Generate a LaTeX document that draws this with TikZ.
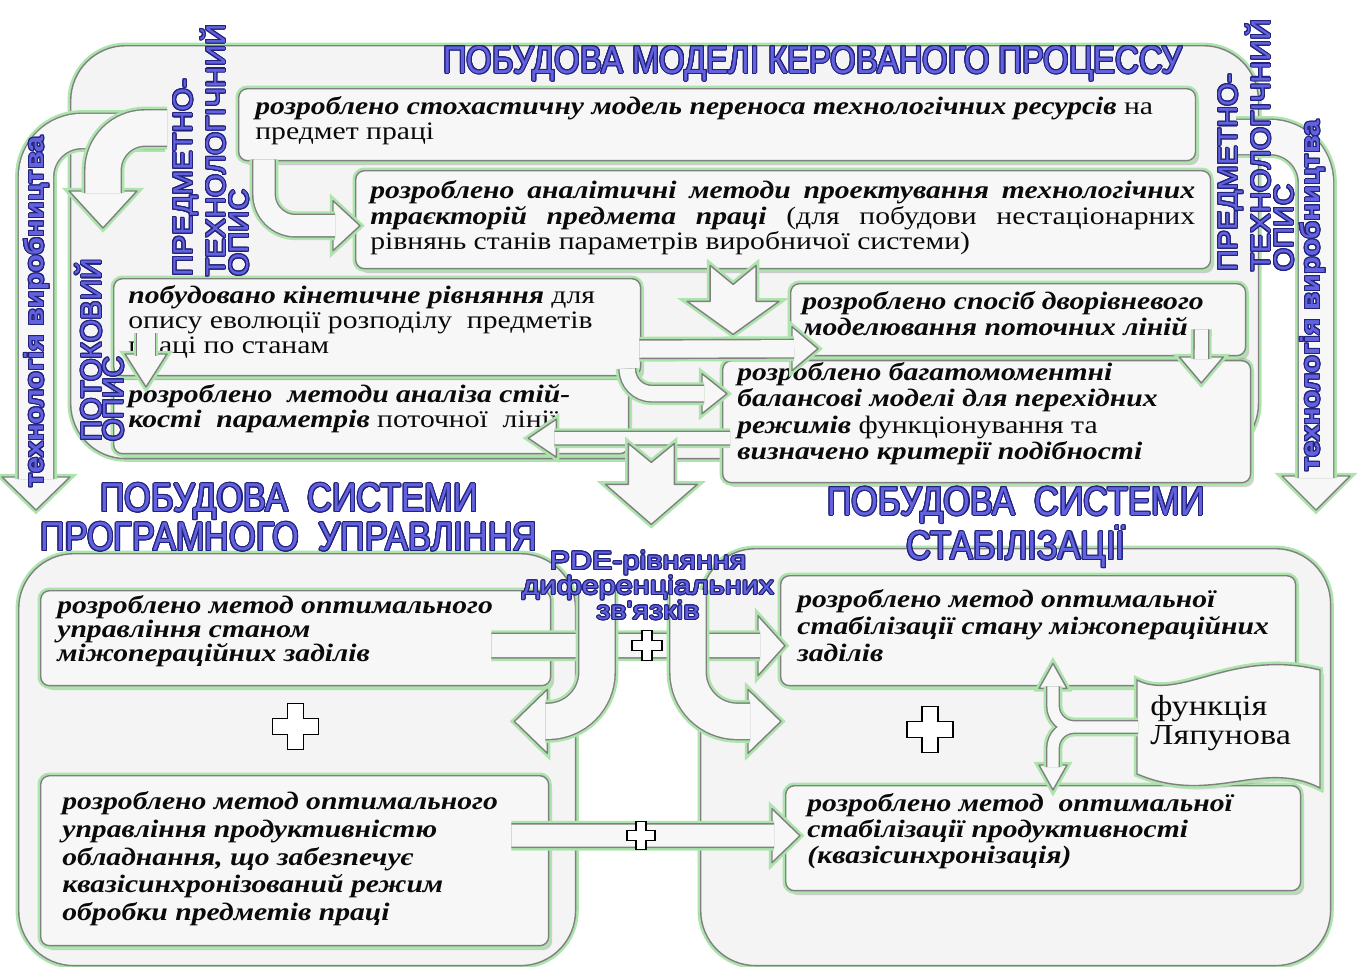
\documentclass[tikz,border=0pt]{standalone}
\usepackage{fontspec}
\setmainfont{Liberation Serif}[FakeStretch=1.18]
\setsansfont{Liberation Sans}
\newfontfamily\ttlfont{Liberation Sans}[FakeStretch=0.85]
\newfontfamily\sidefont{Liberation Sans}[FakeStretch=1.09]
\newfontfamily\techfont{Liberation Sans}[FakeStretch=1.1]
\newfontfamily\pdefont{Liberation Sans}[FakeStretch=1.2]
\usepackage[copies]{contour}
\contourlength{0.6pt}
\usetikzlibrary{arrows.meta,positioning,calc,shadows}
\definecolor{dgInk}{RGB}{10,10,10}
\definecolor{dgPanel}{RGB}{244,244,244}
\definecolor{dgBox}{RGB}{247,247,247}
\definecolor{dgEdge}{RGB}{128,128,128}
\definecolor{dgGlow}{RGB}{172,228,172}
\definecolor{dgBlue}{RGB}{98,98,222}
\definecolor{dgNavy}{RGB}{34,34,124}
\newcommand{\bi}[1]{\textbf{\textit{#1}}}
\newcommand{\hd}[1]{{\color{dgBlue}\contour{dgNavy}{#1}}}

\begin{document}
\begin{tikzpicture}[x=0.02cm,y=-0.02cm,>=Latex]
\tikzset{
panel/.style={anchor=north west,rounded corners=1.1cm,draw=dgEdge,fill=dgPanel,line width=.8pt,
  preaction={draw=dgGlow,line width=3.6pt},inner sep=0pt},
box/.style={anchor=north west,rounded corners=5pt,draw=dgEdge,fill=dgBox,line width=.8pt,
  drop shadow={opacity=.35,shadow xshift=2pt,shadow yshift=-2.5pt},
  preaction={draw=dgGlow,line width=3.6pt},inner sep=0pt},
txt/.style={anchor=west,align=left,inner sep=0pt,text=dgInk,font=\fontsize{14.3}{14.3}\selectfont},
pipe/.style={draw=dgEdge,line width=#1*0.567pt,preaction={draw=dgGlow,line width=#1*0.567pt+2.8pt},
  postaction={draw=dgBox,line width=#1*0.567pt-1.6pt}},
tipst/.style={draw=dgEdge,fill=dgBox,line width=.8pt,line join=round,preaction={draw=dgGlow,line width=3.6pt}},
flag/.style={draw=dgEdge,fill=dgBox,line width=.8pt,drop shadow={opacity=.25},
  preaction={draw=dgGlow,line width=3.6pt}},
plusst/.style={draw=black,fill=white,line width=.9pt},
ttl/.style={align=center,inner sep=0pt,font=\ttlfont\fontsize{23}{18.7}\selectfont},
side/.style={rotate=90,anchor=north west,align=left,inner sep=0pt},
pics/tip/.style args={#1/#2}{code={\draw[tipst] (0,0) -- (-#1,-#2) -- (-#1,#2) -- cycle;}},
pics/notchdown/.style args={#1/#2}{code={\draw[tipst] (0,0) -- (46,-#1) -- (23,-#1) -- (23,-#1-#2)
  -- (0,-#1-#2+19) -- (-23,-#1-#2) -- (-23,-#1) -- (-46,-#1) -- cycle;}},
pics/plus/.style args={#1/#2}{code={\draw[plusst] (-#2,-#1) -- (#2,-#1) -- (#2,-#2) -- (#1,-#2)
  -- (#1,#2) -- (#2,#2) -- (#2,#1) -- (-#2,#1) -- (-#2,#2) -- (-#1,#2) -- (-#1,-#2) -- (-#2,-#2) -- cycle;}}
}
\useasboundingbox (0,0) rectangle (1357,967);

% panels
\node[panel,minimum width=23.76cm,minimum height=8.26cm] (model) at (70,45) {};
\node[panel,minimum width=11.14cm,minimum height=8.24cm] (prog) at (18,553) {};
\node[panel,minimum width=12.6cm,minimum height=8.34cm] (stabp) at (700,548) {};

% side arrows
\coordinate (techL) at (165,131);
\coordinate (techLtip) at (36,510);
\pic[rotate=-90] at (techLtip) {tip=33/34};
\draw[pipe=37,rounded corners=26pt] (techL) -| ($(techLtip)+(0,-31)$);
\coordinate (flowL) at (167,128);
\coordinate (flowLtip) at (103,228);
\pic[rotate=-90] at (flowLtip) {tip=37/34};
\draw[pipe=38,rounded corners=24pt] (flowL) -| ($(flowLtip)+(0,-35)$);
\coordinate (techR) at (1236,137);
\coordinate (techRtip) at (1316,510);
\pic[rotate=-90] at (techRtip) {tip=34/34};
\draw[pipe=37,rounded corners=26pt] (techR) -| ($(techRtip)+(0,-32)$);

% model boxes
\node[box,minimum width=19.14cm,minimum height=1.44cm] (stoch) at (238,88) {};
\node[box,minimum width=17.1cm,minimum height=1.96cm] (analyt) at (355,170) {};
\node[box,minimum width=10.3cm,minimum height=1.5cm] (stab) at (113,378) {};
\node[box,minimum width=10.54cm,minimum height=1.94cm] (kinet) at (113,278) {};
\node[box,minimum width=10.56cm,minimum height=2.44cm] (bagat) at (722,360) {};
\node[box,minimum width=9.1cm,minimum height=1.44cm] (dvor) at (790,283) {};

\node[txt] (stochT) at ($(stoch.west)+(17,-4)$)
  {\bi{розроблено стохастичну модель переноса технологічних ресурсів} на\\предмет праці};
\node[txt,text width=16.5cm,align=justify] (analytT) at ($(analyt.west)+(15,-2)$)
  {\bi{розроблено аналітичні методи проектування технологічних}\linebreak
   \bi{траєкторій предмета праці} (для побудови нестаціонарних\linebreak
   рівнянь станів параметрів виробничої системи)};
\node[txt] (kinetT) at ($(kinet.west)+(15,-5)$)
  {\bi{побудовано кінетичне рівняння} для\\опису еволюції розподілу\ \ предметів\\праці по станам};
\node[txt] (stabT) at ($(stab.west)+(15,-8)$)
  {\bi{розроблено\ \ методи аналіза стій-}\\\bi{кості\ \ параметрів} поточної\ \ лінії};
\node[txt] (dvorT) at ($(dvor.west)+(12,-6)$)
  {\bi{розроблено спосіб дворівневого}\\\bi{моделювання поточних ліній}};
\node[txt,font=\fontsize{14.3}{14.9}\selectfont] (bagatT) at ($(bagat.west)+(15,-8)$)
  {\bi{розроблено багатомоментні}\\\bi{балансові моделі для перехідних}\\\bi{режимів} функціонування та\\\bi{визначено критерії подібності}};

% model arrows
\coordinate (a1s) at ($(stoch.south west)+(26,-2)$);
\coordinate (a1e) at ($(analyt.west)+(5,6)$);
\pic at (a1e) {tip=27/25};
\draw[pipe=24,rounded corners=18pt] (a1s) |- ($(a1e)+(-25,0)$);
\coordinate (a2) at ($(analyt.south)+(-50,65)$);
\pic at (a2) {notchdown=33/36};
\coordinate (a3s) at ($(kinet.east)+(-2,22)$);
\coordinate (a3e) at ($(dvor.west)+(28,29)$);
\pic at (a3e) {tip=26/22};
\draw[pipe=20] (a3s) -- ($(a3e)+(-24,0)$);
\coordinate (a4s) at ($(kinet.south east)+(-14,-4)$);
\coordinate (a4e) at ($(bagat.west)+(5,-28)$);
\pic at (a4e) {tip=25/20};
\draw[pipe=18,rounded corners=14pt] (a4s) |- ($(a4e)+(-23,0)$);
\coordinate (a5s) at ($(bagat.west)+(8,16.5)$);
\coordinate (a5e) at ($(stab.east)+(-101,22)$);
\pic[rotate=180] at (a5e) {tip=28/19};
\draw[pipe=15] (a5s) -- ($(a5e)+(26,0)$);
\coordinate (a6) at ($(stab.south east)+(22,70)$);
\pic at (a6) {notchdown=40/41};
\coordinate (a7s) at ($(dvor.south east)+(-45,-27)$);
\coordinate (a7e) at ($(bagat.north east)+(-50,23)$);
\pic[rotate=-90] at (a7e) {tip=26/22};
\draw[pipe=16] (a7s) -- ($(a7e)+(0,-24)$);
\coordinate (a8s) at ($(kinet.south west)+(33,-43)$);
\coordinate (a8e) at ($(stab.north west)+(33,9)$);
\pic[rotate=-90] at (a8e) {tip=33/21};
\draw[pipe=20] (a8s) -- ($(a8e)+(0,-31)$);

% control and stabilisation boxes
\node[box,minimum width=10.2cm,minimum height=1.9cm] (ctrlA) at (40,590) {};
\node[box,minimum width=10.16cm,minimum height=3.4cm] (ctrlB) at (40,775) {};
\node[box,minimum width=10.3cm,minimum height=2.2cm] (stabA) at (780,575) {};
\node[box,minimum width=10.3cm,minimum height=2.1cm] (stabB) at (785,785) {};

\node[txt,font=\fontsize{14.3}{13.9}\selectfont] (ctrlAT) at ($(ctrlA.west)+(17,-7)$)
  {\bi{розроблено метод оптимального}\\\bi{управління станом}\\\bi{міжопераційних заділів}};
\node[txt,font=\fontsize{14.3}{15.7}\selectfont] (ctrlBT) at ($(ctrlB.west)+(22,-2)$)
  {\bi{розроблено метод оптимального}\\\bi{управління продуктивністю}\\\bi{обладнання, що забезпечує}\\
   \bi{квазісинхронізований режим}\\\bi{обробки предметів праці}};
\node[txt,font=\fontsize{14.3}{15.3}\selectfont] (stabAT) at ($(stabA.west)+(17,-5)$)
  {\bi{розроблено метод оптимальної}\\\bi{стабілізації стану міжопераційних}\\\bi{заділів}};
\node[txt,font=\fontsize{14.3}{14.7}\selectfont] (stabBT) at ($(stabB.west)+(22,-7)$)
  {\bi{розроблено метод\ \ оптимальної}\\\bi{стабілізації продуктивності}\\\bi{(квазісинхронізація)}};

% links between the two systems
\coordinate (b1s) at ($(ctrlA.east)+(-60,7.5)$);
\coordinate (b1e) at ($(stabA.west)+(5,15)$);
\pic at (b1e) {tip=27/30};
\draw[pipe=26] (b1s) -- ($(b1e)+(-25,0)$);
\coordinate (b2s) at ($(ctrlB.east)+(-38,-25)$);
\coordinate (b2e) at ($(stabB.west)+(15,-2.5)$);
\pic at (b2e) {tip=28/27};
\draw[pipe=25] (b2s) -- ($(b2e)+(-26,0)$);
\coordinate (b3s) at (597,585);
\coordinate (b3e) at ($(ctrlA.south east)+(-37,35)$);
\pic[rotate=180] at (b3e) {tip=33/32};
\draw[pipe=38,rounded corners=28pt] (b3s) |- ($(b3e)+(31,0)$);
\coordinate (b4s) at (688,590);
\coordinate (b4e) at ($(stabA.south west)+(1,35)$);
\pic at (b4e) {tip=33/32};
\draw[pipe=38,rounded corners=28pt] (b4s) |- ($(b4e)+(-31,0)$);

% Lyapunov function
\draw[flag] (1137,680) .. controls (1180,702) and (1232,648) .. (1320,670) -- (1320,788)
  .. controls (1262,758) and (1212,806) .. (1137,774) -- cycle;
\node[txt,font=\fontsize{16.5}{16.4}\selectfont] (lyap) at (1150,723) {функція\\Ляпунова};
\coordinate (b5s) at ($(lyap.west)+(-12,4)$);
\coordinate (b5u) at ($(stabA.south west)+(273,-23)$);
\coordinate (b5d) at ($(stabB.north west)+(268,5)$);
\pic[rotate=90] at (b5u) {tip=25/14};
\pic[rotate=-90] at (b5d) {tip=25/14};
\draw[pipe=14,rounded corners=12pt] (b5s) -| ($(b5u)+(0,23)$) (b5s) -| ($(b5d)+(0,-23)$);

% plus signs
\pic at ($(ctrlA.south)+(0,40)$) {plus=23/8};
\pic at ($(stabA.south)+(-108,43)$) {plus=23/8};
\pic at ($(b1s)!.53!(b1e)$) {plus=15/5};
\pic at ($(b2s)!.45!(b2e)$) {plus=14/5};

% headings
\node[ttl,font=\ttlfont\fontsize{22}{22}\selectfont] (ttlModel) at (813,64)
  {\hd{ПОБУДОВА МОДЕЛІ КЕРОВАНОГО ПРОЦЕССУ}};
\node[ttl] (ttlProg) at (289,518) {\hd{ПОБУДОВА\ \ СИСТЕМИ}\\\hd{ПРОГРАМНОГО\ \ УПРАВЛІННЯ}};
\node[ttl,font=\ttlfont\fontsize{23}{17}\selectfont] (ttlStab) at (1016,528)
  {\hd{ПОБУДОВА\ \ СИСТЕМИ}\\\hd{СТАБІЛІЗАЦІЇ}};
\node[ttl,font=\pdefont\fontsize{14.5}{14.2}\selectfont] (pde) at (648,586)
  {\hd{PDE-рівняння}\\\hd{диференціальних}\\\hd{зв'язків}};

% vertical labels
\node[side,font=\sidefont\fontsize{15.5}{13.2}\selectfont] (sideL) at (173,277)
  {\hd{ПРЕДМЕТНО-}\\\hd{ТЕХНОЛОГІЧНИЙ}\\\hd{ОПИС}};
\node[side,font=\sidefont\fontsize{15.5}{13.2}\selectfont] (sideR) at (1218,272)
  {\hd{ПРЕДМЕТНО-}\\\hd{ТЕХНОЛОГІЧНИЙ}\\\hd{ОПИС}};
\node[side,font=\sffamily\fontsize{16.5}{12.5}\selectfont] (flowT) at (75,442)
  {\hd{ПОТОКОВИЙ}\\\hd{ОПИС}};
\node[side,font=\techfont\bfseries\fontsize{15}{15}\selectfont] (techLT) at (24,488)
  {\hd{технологія виробництва}};
\node[side,font=\techfont\bfseries\fontsize{15}{15}\selectfont] (techRT) at (1300,472)
  {\hd{технологія виробництва}};
\end{tikzpicture}
\end{document}
